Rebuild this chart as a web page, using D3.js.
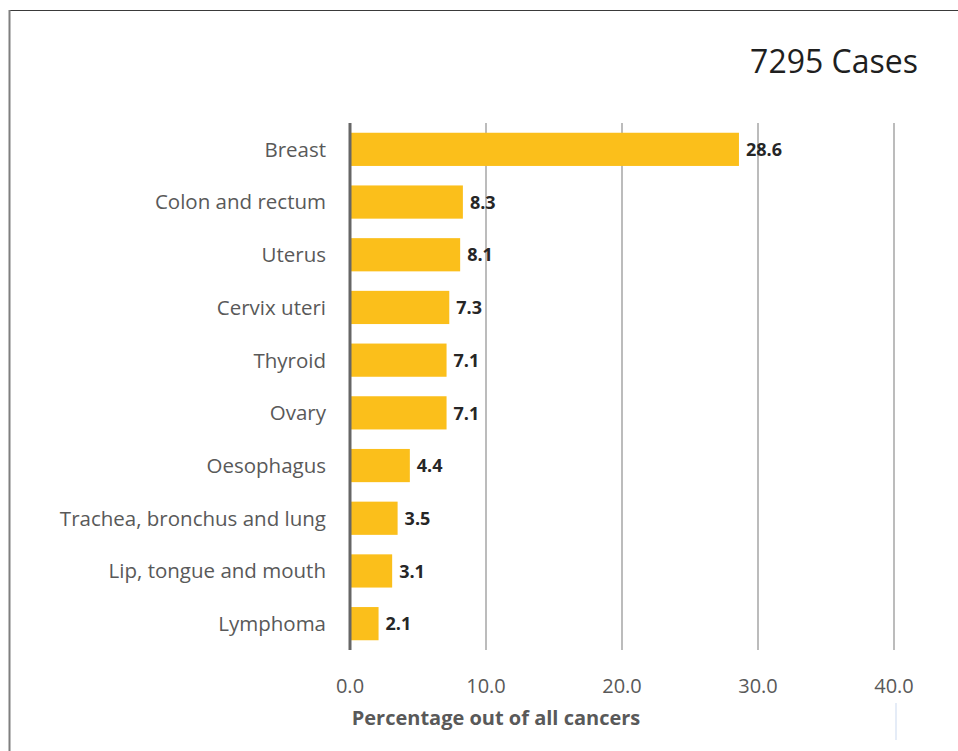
<!DOCTYPE html>
<html><head><meta charset="utf-8">
<script src="https://cdn.jsdelivr.net/npm/d3@7"></script>
<style>body{margin:0;background:#fff}svg{display:block}</style>
</head><body>
<svg id="c" width="958" height="751"></svg>
<script>
const categories = ["Breast","Colon and rectum","Uterus","Cervix uteri","Thyroid","Ovary","Oesophagus","Trachea, bronchus and lung","Lip, tongue and mouth","Lymphoma"];
const values = [28.6,8.3,8.1,7.3,7.1,7.1,4.4,3.5,3.1,2.1];
const ticks = [0,10,20,30,40];
const title = "7295 Cases";
const axisTitle = "Percentage out of all cancers";

const svg = d3.select("#c");
const font = "'Open Sans', sans-serif";
// frame
svg.append("line").attr("x1",9).attr("x2",958).attr("y1",10.5).attr("y2",10.5).attr("stroke","#3a3a3a").attr("stroke-width",1);
svg.append("line").attr("x1",9.5).attr("x2",9.5).attr("y1",10).attr("y2",751).attr("stroke","#7f7f7f").attr("stroke-width",2);

const x = d3.scaleLinear().domain([0,40]).range([350,894]);
const y = d3.scaleBand().domain(categories).range([123,650]).paddingInner(0.37).paddingOuter(0.185);

const g = svg.append("g");
g.selectAll("line.grid").data(ticks.slice(1)).join("line").attr("class","grid")
  .attr("x1",d=>x(d)).attr("x2",d=>x(d)).attr("y1",123).attr("y2",650)
  .attr("stroke","#a6a6a6").attr("stroke-width",1.5);

g.selectAll("rect").data(values).join("rect")
  .attr("x",x(0)).attr("y",(d,i)=>y(categories[i])).attr("width",d=>x(d)-x(0)).attr("height",y.bandwidth())
  .attr("fill","#fbbf1b");

g.append("line").attr("x1",x(0)).attr("x2",x(0)).attr("y1",123).attr("y2",650).attr("stroke","#666666").attr("stroke-width",3);

g.selectAll("text.val").data(values).join("text").attr("class","val")
  .attr("x",d=>x(d)+7).attr("y",(d,i)=>y(categories[i])+y.bandwidth()/2).attr("dy","0.37em")
  .attr("font-family",font).attr("font-size",18).attr("font-weight","bold").attr("fill","#262626")
  .text(d=>d.toFixed(1));

g.selectAll("text.cat").data(categories).join("text").attr("class","cat")
  .attr("x",326).attr("y",d=>y(d)+y.bandwidth()/2).attr("dy","0.36em").attr("text-anchor","end")
  .attr("font-family",font).attr("font-size",20.5).attr("fill","#595959").text(d=>d);

g.selectAll("text.tick").data(ticks).join("text").attr("class","tick")
  .attr("x",d=>x(d)).attr("y",686).attr("dy","0.36em").attr("text-anchor","middle")
  .attr("font-family",font).attr("font-size",20).attr("fill","#595959").text(d=>d.toFixed(1));

svg.append("text").attr("x",496).attr("y",718).attr("dy","0.36em").attr("text-anchor","middle")
  .attr("font-family",font).attr("font-size",20).attr("font-weight","bold").attr("fill","#595959").text(axisTitle);

svg.append("text").attr("x",918).attr("y",61).attr("dy","0.36em").attr("text-anchor","end")
  .attr("font-family",font).attr("font-size",32).attr("fill","#1f1f1f").text(title);

svg.append("line").attr("x1",896).attr("x2",896).attr("y1",703).attr("y2",740).attr("stroke","#dce6f5").attr("stroke-width",1.5);
</script>
</body></html>
